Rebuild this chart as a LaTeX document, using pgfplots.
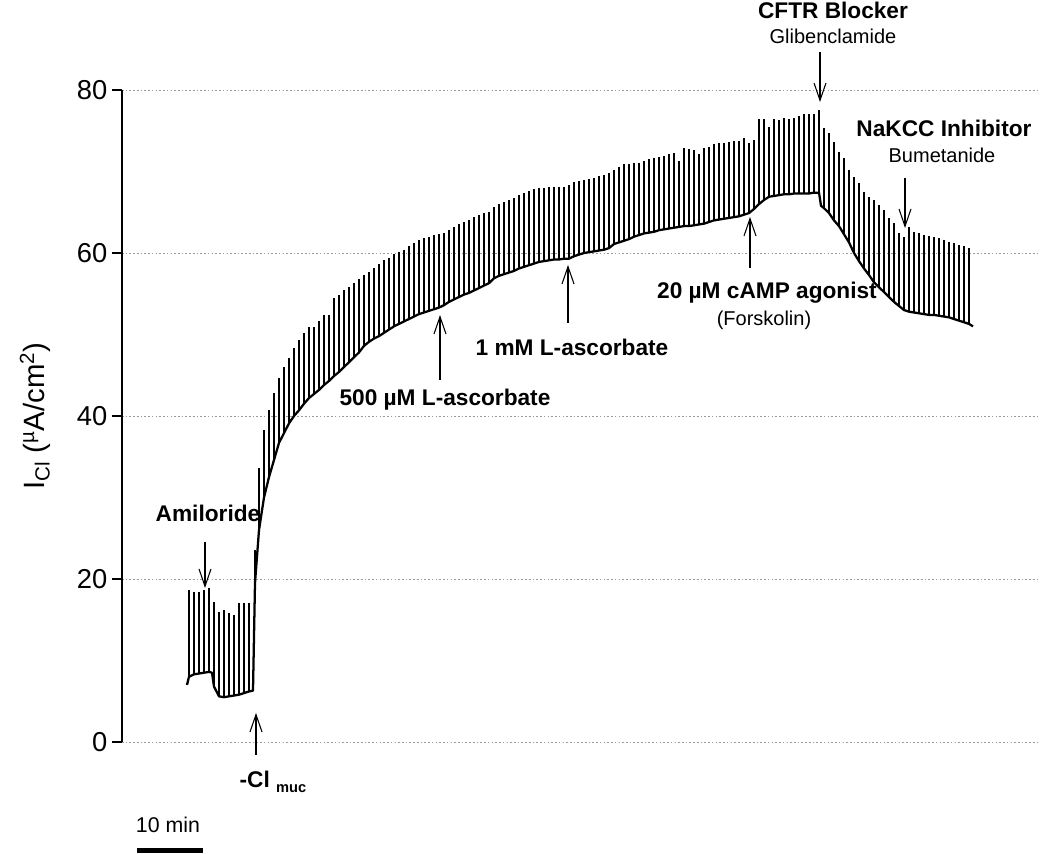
\documentclass[border=0pt]{standalone}
\usepackage{fontspec}
\setmainfont{Liberation Sans}
\usepackage{pgfplots}
\pgfplotsset{compat=1.18}
\usepackage{pgfplotstable}
\usetikzlibrary{arrows.meta}

\pgfplotstableread{
x b t
187 7.0 7.0
189 8.0 18.6
194 8.3 18.4
199 8.4 18.4
204 8.5 18.6
209 8.6 18.9
212 8.5 8.5
214 6.8 17.2
219 5.6 16.0
224 5.5 16.2
229 5.6 15.8
234 5.7 15.6
239 5.8 17.0
244 6.0 17.0
249 6.2 17.0
253 6.3 6.3
255 19.5 23.6
259 26.0 33.6
264 30.0 38.3
269 32.5 40.7
274 34.6 42.8
279 36.7 44.7
284 37.9 46.0
289 39.1 47.1
294 40.0 48.3
299 40.7 49.3
304 41.5 50.2
309 42.2 50.9
314 42.7 50.9
319 43.2 51.6
324 43.8 52.4
329 44.3 52.4
334 44.9 54.5
339 45.4 54.8
344 46.0 55.5
349 46.6 55.8
354 47.2 56.3
359 47.8 56.8
364 48.6 57.3
369 49.1 57.7
374 49.5 58.1
379 49.8 58.6
384 50.2 59.1
389 50.6 59.4
394 51.0 59.9
399 51.3 60.1
404 51.6 60.4
409 51.9 60.9
414 52.2 61.2
419 52.5 61.6
424 52.7 61.9
429 52.9 62.0
434 53.1 62.2
439 53.3 62.3
444 53.6 62.5
449 54.0 62.8
454 54.3 63.2
459 54.6 63.5
464 54.9 63.8
469 55.1 64.1
474 55.4 64.4
479 55.7 64.7
484 56.0 64.9
489 56.3 65.0
494 56.9 65.7
499 57.2 66.0
504 57.4 66.3
509 57.6 66.5
514 57.8 66.8
519 58.1 67.1
524 58.3 67.4
529 58.5 67.6
534 58.7 67.8
539 58.9 68.0
544 59.0 68.0
549 59.1 68.1
554 59.2 68.1
559 59.2 68.1
564 59.3 68.1
569 59.3 68.4
574 59.6 68.7
579 59.8 68.8
584 60.0 69.0
589 60.1 69.1
594 60.2 69.2
599 60.3 69.4
604 60.4 69.6
609 60.6 69.8
614 61.1 70.2
619 61.3 70.6
624 61.5 70.9
629 61.7 70.9
634 62.0 71.0
639 62.2 71.1
644 62.4 71.3
649 62.5 71.5
654 62.6 71.6
659 62.8 71.8
664 62.9 71.9
669 63.0 72.1
674 63.1 72.3
679 63.2 71.3
684 63.3 72.9
689 63.3 72.8
694 63.4 72.6
699 63.5 72.1
704 63.6 72.9
709 63.8 73.0
714 64.0 73.4
719 64.1 73.5
724 64.2 73.5
729 64.3 73.6
734 64.4 73.8
739 64.5 73.8
744 64.7 74.1
749 64.9 73.5
754 65.4 73.9
759 66.0 76.4
764 66.5 76.4
769 66.9 75.4
774 67.0 76.4
779 67.1 76.3
784 67.2 76.6
789 67.2 76.4
794 67.3 76.6
799 67.3 76.8
804 67.3 77.1
809 67.3 77.1
814 67.4 77.0
819 67.4 77.6
821 65.8 65.8
824 65.5 75.3
829 64.9 74.7
834 64.0 73.6
839 63.3 72.4
844 62.3 71.6
849 61.3 70.2
854 60.0 69.3
859 59.0 68.6
864 58.1 67.5
869 57.3 66.9
874 56.4 66.5
879 55.8 65.9
884 55.2 65.3
889 54.6 64.3
894 54.0 63.7
899 53.5 62.5
904 53.0 62.0
909 52.8 63.2
914 52.7 62.6
919 52.6 62.4
924 52.5 62.2
929 52.4 62.1
934 52.4 62.0
939 52.3 61.8
944 52.2 61.6
949 52.1 61.4
954 51.9 61.2
959 51.7 61.0
964 51.5 60.8
969 51.3 60.6
973 51.0 51.0
}\trace

\tikzset{
  ann/.style={font=\fontsize{17}{20}\selectfont\bfseries, inner sep=0pt},
  sub/.style={font=\fontsize{15}{18}\selectfont, inner sep=0pt},
  arr/.style={-{Straight Barb[length=13pt,width=9pt]}, line width=0.8pt, black}
}

\begin{document}
\begin{tikzpicture}
\begin{axis}[
  scale only axis,
  width=688.5pt, height=489pt,
  xmin=122, xmax=1040, ymin=0, ymax=80,
  clip=false,
  axis x line=none,
  axis y line=left,
  y axis line style={line width=1.75pt, -},
  ytick={0,20,40,60,80},
  tick align=outside,
  major tick length=7.5pt,
  every tick/.style={line width=1.75pt, black},
  ymajorgrids,
  major grid style={dash pattern=on 1.2pt off 1.6pt, line width=0.6pt, black!40},
  yticklabel style={font=\fontsize{20.5}{24}\selectfont, /pgf/number format/assume math mode=true, anchor=east},
]
\addplot[black, line width=1.7pt, line join=round,
  error bars/.cd, y dir=plus, y explicit, error mark=none,
  error bar style={line width=2.2pt, black}]
  table[x=x, y=b, y error expr=\thisrow{t}-\thisrow{b}]{\trace};

\coordinate (BL) at (axis cs:0,-13.742);
\coordinate (TR) at (axis cs:1050,91.043);

% annotations
\node[ann] at (axis cs:833,89.82) {CFTR Blocker};
\node[sub] at (axis cs:833,86.63) {Glibenclamide};
\draw[arr] (axis cs:820,84.66) -- (axis cs:820,78.53);

\node[ann] at (axis cs:944,75.34) {NaKCC Inhibitor};
\node[sub] at (axis cs:942,72.02) {Bumetanide};
\draw[arr] (axis cs:905,69.20) -- (axis cs:905,63.07);

\node[ann] at (axis cs:767,55.09) {20 µM cAMP agonist};
\node[sub] at (axis cs:764,51.78) {(Forskolin)};
\draw[arr] (axis cs:750,58.16) -- (axis cs:750,64.42);

\node[ann] at (axis cs:572,48.47) {1 mM L-ascorbate};
\draw[arr] (axis cs:568,51.41) -- (axis cs:568,58.53);

\node[ann] at (axis cs:445,41.96) {500 µM L-ascorbate};
\draw[arr] (axis cs:440,44.42) -- (axis cs:440,52.39);

\node[ann] at (axis cs:208,28.10) {Amiloride};
\draw[arr] (axis cs:205,24.54) -- (axis cs:205,18.90);

\node[ann] at (axis cs:273,-4.91) {-Cl \raisebox{-0.45ex}{\fontsize{11}{12}\selectfont muc}};
\draw[arr] (axis cs:256,-1.60) -- (axis cs:256,3.56);

\node[font=\fontsize{16}{19}\selectfont, inner sep=0pt] at (axis cs:168,-10.18) {10 min};
\draw[line width=3.75pt] (axis cs:137,-13.31) -- (axis cs:203,-13.31);

\node[rotate=90, font=\fontsize{22}{26}\selectfont, inner sep=0pt] at (axis cs:35,40) {I\textsubscript{Cl} (\textsuperscript{µ}A/cm\textsuperscript{2})};
\end{axis}
\pgfresetboundingbox
\useasboundingbox (BL) rectangle (TR);
\end{tikzpicture}
\end{document}
